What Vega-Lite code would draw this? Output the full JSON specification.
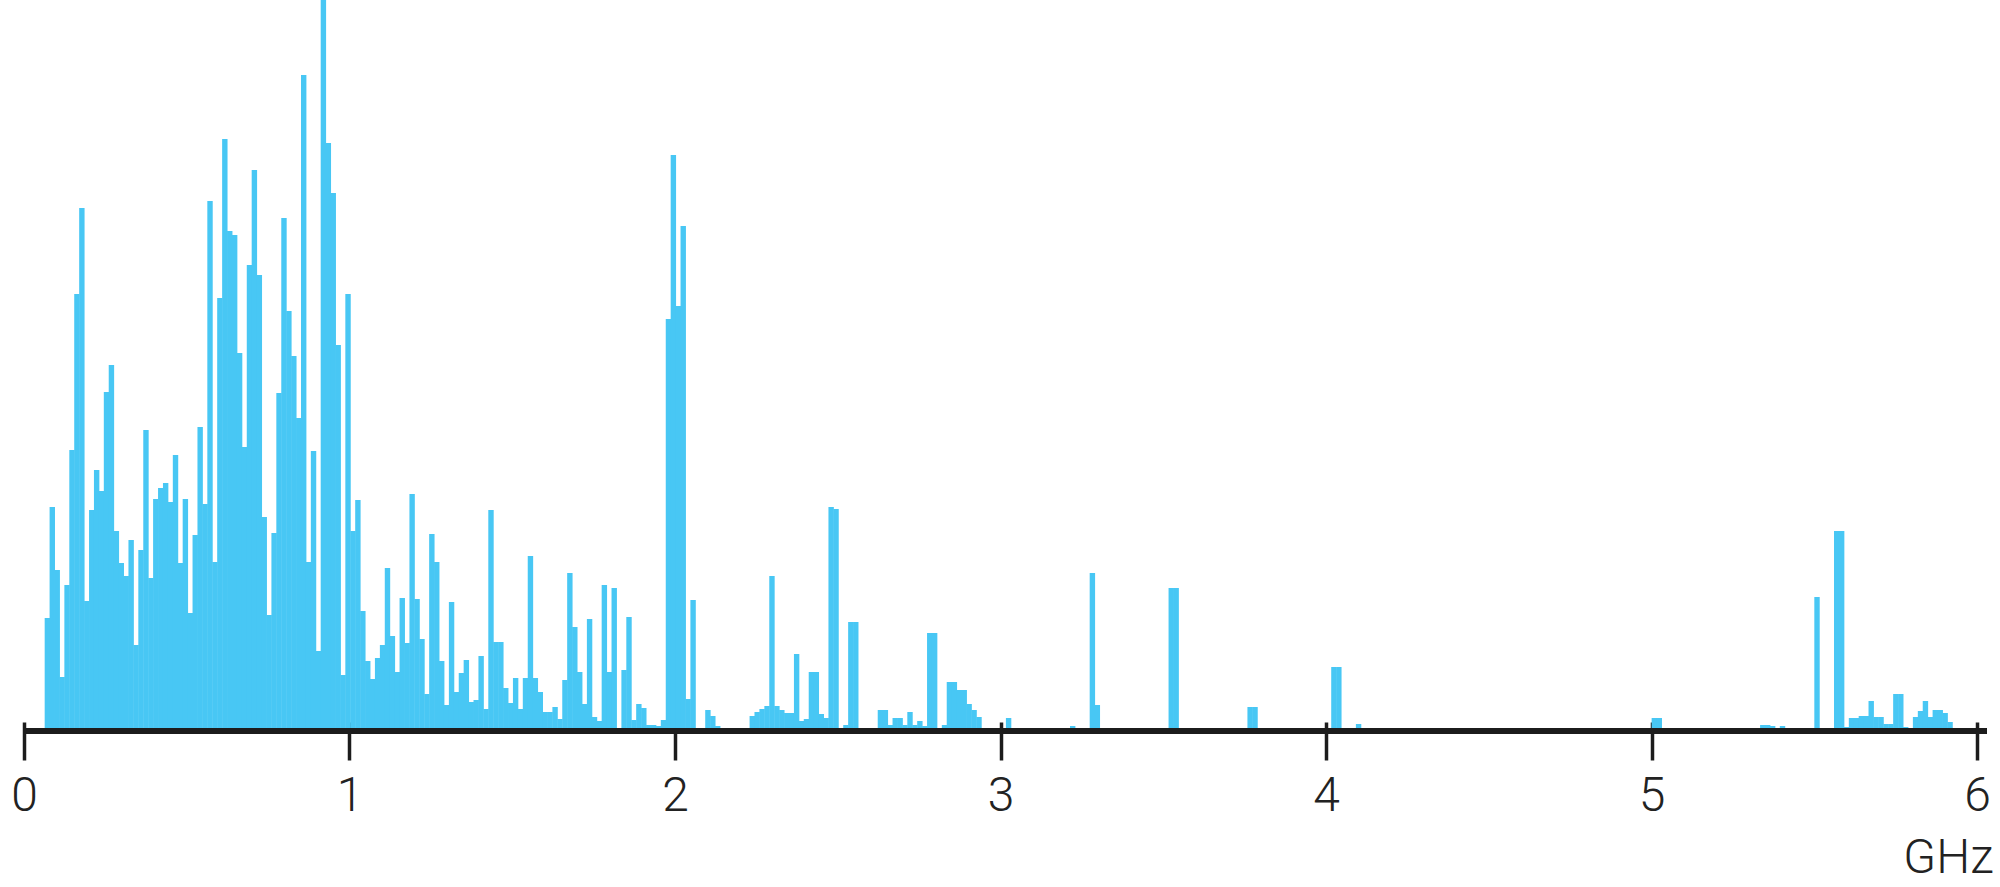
{
  "$schema": "https://vega.github.io/schema/vega-lite/v6.json",
  "width": 1963,
  "height": 728,
  "autosize": {"type": "none"},
  "padding": {"left": 19, "right": 18, "top": 0, "bottom": 159},
  "background": "#ffffff",
  "config": {"view": {"stroke": null}},
  "data": {"values": [
    {"f": 0.0718, "h": 110}, {"f": 0.0869, "h": 221}, {"f": 0.1021, "h": 158}, {"f": 0.1172, "h": 51},
    {"f": 0.1323, "h": 143}, {"f": 0.1475, "h": 278}, {"f": 0.1626, "h": 434}, {"f": 0.1778, "h": 520},
    {"f": 0.1929, "h": 127}, {"f": 0.2081, "h": 218}, {"f": 0.2232, "h": 258}, {"f": 0.2383, "h": 237},
    {"f": 0.2535, "h": 336}, {"f": 0.2686, "h": 363}, {"f": 0.2838, "h": 197}, {"f": 0.2989, "h": 165},
    {"f": 0.3141, "h": 152}, {"f": 0.3292, "h": 188}, {"f": 0.3444, "h": 83}, {"f": 0.3595, "h": 178},
    {"f": 0.3747, "h": 298}, {"f": 0.3898, "h": 150}, {"f": 0.4049, "h": 229}, {"f": 0.4201, "h": 240},
    {"f": 0.4352, "h": 245}, {"f": 0.4504, "h": 226}, {"f": 0.4655, "h": 273}, {"f": 0.4807, "h": 165},
    {"f": 0.4958, "h": 229}, {"f": 0.5109, "h": 115}, {"f": 0.5261, "h": 193}, {"f": 0.5412, "h": 301},
    {"f": 0.5564, "h": 224}, {"f": 0.5715, "h": 527}, {"f": 0.5867, "h": 166}, {"f": 0.6018, "h": 430},
    {"f": 0.6170, "h": 589}, {"f": 0.6321, "h": 497}, {"f": 0.6472, "h": 493}, {"f": 0.6624, "h": 375},
    {"f": 0.6775, "h": 281}, {"f": 0.6927, "h": 463}, {"f": 0.7078, "h": 558}, {"f": 0.7230, "h": 453},
    {"f": 0.7381, "h": 211}, {"f": 0.7532, "h": 113}, {"f": 0.7684, "h": 195}, {"f": 0.7835, "h": 335},
    {"f": 0.7987, "h": 510}, {"f": 0.8138, "h": 417}, {"f": 0.8290, "h": 372}, {"f": 0.8441, "h": 310},
    {"f": 0.8593, "h": 653}, {"f": 0.8744, "h": 166}, {"f": 0.8895, "h": 277}, {"f": 0.9047, "h": 77},
    {"f": 0.9198, "h": 728}, {"f": 0.9350, "h": 585}, {"f": 0.9501, "h": 535}, {"f": 0.9653, "h": 383},
    {"f": 0.9804, "h": 53}, {"f": 0.9955, "h": 434}, {"f": 1.0107, "h": 197}, {"f": 1.0258, "h": 228},
    {"f": 1.0410, "h": 117}, {"f": 1.0561, "h": 67}, {"f": 1.0713, "h": 49}, {"f": 1.0864, "h": 70},
    {"f": 1.1016, "h": 83}, {"f": 1.1167, "h": 160}, {"f": 1.1318, "h": 92}, {"f": 1.1470, "h": 56},
    {"f": 1.1621, "h": 130}, {"f": 1.1773, "h": 85}, {"f": 1.1924, "h": 234}, {"f": 1.2076, "h": 129},
    {"f": 1.2227, "h": 89}, {"f": 1.2379, "h": 34}, {"f": 1.2530, "h": 194}, {"f": 1.2681, "h": 166},
    {"f": 1.2833, "h": 67}, {"f": 1.2984, "h": 23}, {"f": 1.3136, "h": 126}, {"f": 1.3287, "h": 36},
    {"f": 1.3439, "h": 55}, {"f": 1.3590, "h": 68}, {"f": 1.3741, "h": 26}, {"f": 1.3893, "h": 28},
    {"f": 1.4044, "h": 72}, {"f": 1.4196, "h": 19}, {"f": 1.4347, "h": 218}, {"f": 1.4499, "h": 86},
    {"f": 1.4650, "h": 86}, {"f": 1.4801, "h": 40}, {"f": 1.4953, "h": 25}, {"f": 1.5104, "h": 50},
    {"f": 1.5256, "h": 19}, {"f": 1.5407, "h": 50}, {"f": 1.5559, "h": 172}, {"f": 1.5710, "h": 50},
    {"f": 1.5862, "h": 36}, {"f": 1.6013, "h": 16}, {"f": 1.6164, "h": 16}, {"f": 1.6316, "h": 21},
    {"f": 1.6467, "h": 9}, {"f": 1.6619, "h": 48}, {"f": 1.6770, "h": 155}, {"f": 1.6922, "h": 101},
    {"f": 1.7073, "h": 56}, {"f": 1.7224, "h": 24}, {"f": 1.7376, "h": 109}, {"f": 1.7527, "h": 11},
    {"f": 1.7679, "h": 7}, {"f": 1.7830, "h": 143}, {"f": 1.7982, "h": 56}, {"f": 1.8133, "h": 140},
    {"f": 1.8436, "h": 58}, {"f": 1.8587, "h": 111}, {"f": 1.8739, "h": 8}, {"f": 1.8890, "h": 24},
    {"f": 1.9042, "h": 20}, {"f": 1.9193, "h": 3}, {"f": 1.9345, "h": 3}, {"f": 1.9496, "h": 2},
    {"f": 1.9647, "h": 8}, {"f": 1.9799, "h": 409}, {"f": 1.9950, "h": 573}, {"f": 2.0102, "h": 422},
    {"f": 2.0253, "h": 502}, {"f": 2.0405, "h": 29}, {"f": 2.0556, "h": 128},
    {"f": 2.1011, "h": 18}, {"f": 2.1162, "h": 12}, {"f": 2.1313, "h": 2},
    {"f": 2.2374, "h": 12}, {"f": 2.2525, "h": 16}, {"f": 2.2676, "h": 19}, {"f": 2.2828, "h": 22},
    {"f": 2.2979, "h": 152}, {"f": 2.3131, "h": 22}, {"f": 2.3282, "h": 18}, {"f": 2.3434, "h": 15},
    {"f": 2.3585, "h": 15}, {"f": 2.3737, "h": 74}, {"f": 2.3888, "h": 7}, {"f": 2.4039, "h": 9},
    {"f": 2.4191, "h": 56}, {"f": 2.4342, "h": 56}, {"f": 2.4494, "h": 14}, {"f": 2.4645, "h": 10},
    {"f": 2.4797, "h": 221}, {"f": 2.4948, "h": 219},
    {"f": 2.5251, "h": 3}, {"f": 2.5402, "h": 106}, {"f": 2.5554, "h": 106},
    {"f": 2.6311, "h": 18}, {"f": 2.6463, "h": 18}, {"f": 2.6614, "h": 3}, {"f": 2.6766, "h": 10},
    {"f": 2.6917, "h": 10}, {"f": 2.7068, "h": 3}, {"f": 2.7220, "h": 16}, {"f": 2.7371, "h": 3},
    {"f": 2.7523, "h": 7}, {"f": 2.7674, "h": 2}, {"f": 2.7826, "h": 95}, {"f": 2.7977, "h": 95},
    {"f": 2.8280, "h": 3}, {"f": 2.8431, "h": 46}, {"f": 2.8583, "h": 46}, {"f": 2.8734, "h": 38},
    {"f": 2.8886, "h": 38}, {"f": 2.9037, "h": 24}, {"f": 2.9189, "h": 18}, {"f": 2.9340, "h": 11},
    {"f": 3.0249, "h": 10},
    {"f": 3.2218, "h": 2}, {"f": 3.2823, "h": 155}, {"f": 3.2975, "h": 23},
    {"f": 3.5246, "h": 140}, {"f": 3.5397, "h": 140},
    {"f": 3.7669, "h": 21}, {"f": 3.7820, "h": 21},
    {"f": 4.0243, "h": 61}, {"f": 4.0395, "h": 61}, {"f": 4.1001, "h": 4},
    {"f": 5.0087, "h": 10}, {"f": 5.0239, "h": 10},
    {"f": 5.3419, "h": 3}, {"f": 5.3570, "h": 3}, {"f": 5.3722, "h": 2}, {"f": 5.4025, "h": 2},
    {"f": 5.5085, "h": 131}, {"f": 5.5690, "h": 197}, {"f": 5.5842, "h": 197}, {"f": 5.5993, "h": 1},
    {"f": 5.6145, "h": 10}, {"f": 5.6296, "h": 10}, {"f": 5.6448, "h": 12}, {"f": 5.6599, "h": 12},
    {"f": 5.6750, "h": 27}, {"f": 5.6902, "h": 11}, {"f": 5.7053, "h": 11}, {"f": 5.7205, "h": 4},
    {"f": 5.7356, "h": 4}, {"f": 5.7507, "h": 34}, {"f": 5.7659, "h": 34}, {"f": 5.7810, "h": 1},
    {"f": 5.8113, "h": 11}, {"f": 5.8265, "h": 17}, {"f": 5.8416, "h": 27}, {"f": 5.8568, "h": 11},
    {"f": 5.8719, "h": 18}, {"f": 5.8871, "h": 18}, {"f": 5.9022, "h": 15}, {"f": 5.9173, "h": 6}
  ]},
  "layer": [
    {
      "mark": {"type": "bar", "orient": "vertical", "width": 5.4, "color": "#48C7F4"},
      "encoding": {
        "x": {
          "field": "f", "type": "quantitative",
          "scale": {"domain": [0, 6], "nice": false, "zero": false},
          "axis": {
            "values": [0, 1, 2, 3, 4, 5, 6],
            "format": "d",
            "domain": false,
            "grid": false,
            "offset": -6,
            "ticks": true,
            "tickSize": 38,
            "tickWidth": 3.5,
            "tickColor": "#1c1c1c",
            "labelFont": "Roboto",
            "labelFontWeight": 300,
            "labelFontSize": 48,
            "labelColor": "#222222",
            "labelBaseline": "alphabetic",
            "labelPadding": 50,
            "labelFlush": false,
            "labelOverlap": false,
            "title": "GHz",
            "titleFont": "Roboto",
            "titleFontWeight": 300,
            "titleFontSize": 48,
            "titleColor": "#222222",
            "titleAlign": "right",
            "titleBaseline": "alphabetic",
            "titleX": 1974,
            "titleY": 150
          }
        },
        "y": {
          "field": "h", "type": "quantitative",
          "scale": {"domain": [0, 728], "nice": false, "zero": true},
          "axis": null
        }
      }
    },
    {
      "mark": {"type": "rule", "color": "#1c1c1c", "strokeWidth": 5.5},
      "encoding": {
        "x": {"datum": 0, "type": "quantitative"},
        "x2": {"datum": 6.028},
        "y": {"datum": -3, "type": "quantitative"}
      }
    }
  ]
}
